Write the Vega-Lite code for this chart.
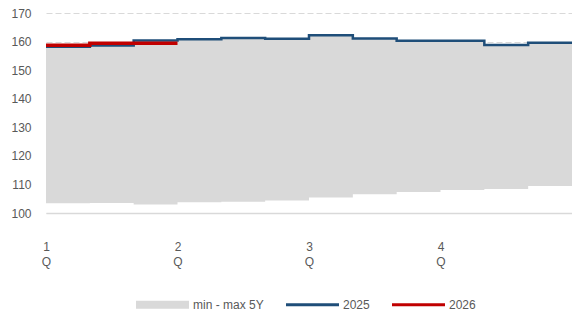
{
  "$schema": "https://vega.github.io/schema/vega-lite/v6.json",
  "width": 526,
  "height": 200,
  "autosize": "none",
  "padding": {"left": 46, "top": 13, "right": 0, "bottom": 102},
  "config": {
    "view": {"stroke": null},
    "font": "Liberation Sans",
    "legend": {
      "title": null,
      "orient": "none",
      "direction": "horizontal",
      "legendX": 90,
      "legendY": 265,
      "symbolType": "M-1,-0.06H1V0.06H-1Z",
      "symbolSize": 2809,
      "symbolStrokeWidth": 0,
      "labelFontSize": 12,
      "labelColor": "#595959",
      "labelOffset": 4,
      "columnPadding": 22
    }
  },
  "datasets": {
    "band": [
      {"m": 0, "lo": 103.4, "hi": 158.2},
      {"m": 1, "lo": 103.5, "hi": 158.6},
      {"m": 2, "lo": 103.0, "hi": 160.4},
      {"m": 3, "lo": 103.75, "hi": 160.8},
      {"m": 4, "lo": 103.95, "hi": 161.25},
      {"m": 5, "lo": 104.4, "hi": 161.0},
      {"m": 6, "lo": 105.4, "hi": 162.2},
      {"m": 7, "lo": 106.6, "hi": 161.1},
      {"m": 8, "lo": 107.35, "hi": 160.3},
      {"m": 9, "lo": 108.05, "hi": 160.3},
      {"m": 10, "lo": 108.4, "hi": 158.8},
      {"m": 11, "lo": 109.45, "hi": 159.6},
      {"m": 12, "lo": 109.45, "hi": 159.6}
    ],
    "lines": [
      {"m": 0, "series": "2025", "value": 158.2},
      {"m": 1, "series": "2025", "value": 158.6},
      {"m": 2, "series": "2025", "value": 160.4},
      {"m": 3, "series": "2025", "value": 160.8},
      {"m": 4, "series": "2025", "value": 161.25},
      {"m": 5, "series": "2025", "value": 161.0},
      {"m": 6, "series": "2025", "value": 162.2},
      {"m": 7, "series": "2025", "value": 161.1},
      {"m": 8, "series": "2025", "value": 160.3},
      {"m": 9, "series": "2025", "value": 160.3},
      {"m": 10, "series": "2025", "value": 158.8},
      {"m": 11, "series": "2025", "value": 159.6},
      {"m": 12, "series": "2025", "value": 159.6},
      {"m": 0, "series": "2026", "value": 158.7},
      {"m": 1, "series": "2026", "value": 159.4},
      {"m": 2, "series": "2026", "value": 159.4},
      {"m": 3, "series": "2026", "value": 159.4}
    ]
  },
  "encoding": {
    "x": {
      "field": "m",
      "type": "quantitative",
      "scale": {"domain": [0, 12], "nice": false, "zero": false},
      "axis": {
        "title": null,
        "values": [0, 3, 6, 9],
        "labelExpr": "[toString(datum.value / 3 + 1), 'Q']",
        "grid": false,
        "ticks": false,
        "domainColor": "#D9D9D9",
        "domainWidth": 1.5,
        "labelColor": "#595959",
        "labelFontSize": 12,
        "labelPadding": 28,
        "labelLineHeight": 15,
        "labelAlign": "center",
        "labelBaseline": "top",
        "labelOverlap": false
      }
    }
  },
  "layer": [
    {
      "data": {"name": "band"},
      "mark": {"type": "area", "interpolate": "step-after", "opacity": 1},
      "encoding": {
        "y": {
          "field": "hi",
          "type": "quantitative",
          "scale": {"domain": [100, 170], "nice": false, "zero": false},
          "axis": {
            "title": null,
            "values": [100, 110, 120, 130, 140, 150, 160, 170],
            "labelOverlap": false,
            "domain": false,
            "ticks": false,
            "gridColor": "#D9D9D9",
            "gridDash": [6, 3],
            "gridWidth": 1,
            "labelColor": "#595959",
            "labelFontSize": 12,
            "labelPadding": 15
          }
        },
        "y2": {"field": "lo"},
        "color": {
          "datum": "min - max 5Y",
          "type": "nominal",
          "scale": {
            "domain": ["min - max 5Y", "2025", "2026"],
            "range": ["#D9D9D9", "#1F4E79", "#C00000"]
          },
          "legend": {
            "title": null,
            "encode": {
              "symbols": {
                "update": {
                  "shape": {"signal": "datum.value == 'min - max 5Y' ? 'M-1,-0.15H1V0.15H-1Z' : 'M-1,-0.06H1V0.06H-1Z'"},
                  "fill": {"signal": "scale('color', datum.value)"},
                  "opacity": {"value": 1}
                }
              }
            }
          }
        }
      }
    },
    {
      "data": {"name": "lines"},
      "transform": [{"filter": "datum.series == '2025'"}],
      "mark": {"type": "line", "interpolate": "step-after", "strokeWidth": 2.5},
      "encoding": {
        "y": {
          "field": "value",
          "type": "quantitative",
          "axis": {
            "title": null,
            "values": [100, 110, 120, 130, 140, 150, 160, 170],
            "labelOverlap": false,
            "domain": false,
            "ticks": false,
            "gridColor": "#D9D9D9",
            "gridDash": [6, 3],
            "gridWidth": 1,
            "labelColor": "#595959",
            "labelFontSize": 12,
            "labelPadding": 15
          }
        },
        "color": {
          "field": "series",
          "type": "nominal",
          "legend": {
            "title": null,
            "encode": {
              "symbols": {
                "update": {
                  "shape": {"signal": "datum.value == 'min - max 5Y' ? 'M-1,-0.15H1V0.15H-1Z' : 'M-1,-0.06H1V0.06H-1Z'"},
                  "fill": {"signal": "scale('color', datum.value)"},
                  "opacity": {"value": 1}
                }
              }
            }
          }
        }
      }
    },
    {
      "data": {"name": "lines"},
      "transform": [{"filter": "datum.series == '2026'"}],
      "mark": {"type": "line", "interpolate": "step-after", "strokeWidth": 3.5},
      "encoding": {
        "y": {
          "field": "value",
          "type": "quantitative",
          "axis": {
            "title": null,
            "values": [100, 110, 120, 130, 140, 150, 160, 170],
            "labelOverlap": false,
            "domain": false,
            "ticks": false,
            "gridColor": "#D9D9D9",
            "gridDash": [6, 3],
            "gridWidth": 1,
            "labelColor": "#595959",
            "labelFontSize": 12,
            "labelPadding": 15
          }
        },
        "color": {
          "field": "series",
          "type": "nominal",
          "legend": {
            "title": null,
            "encode": {
              "symbols": {
                "update": {
                  "shape": {"signal": "datum.value == 'min - max 5Y' ? 'M-1,-0.15H1V0.15H-1Z' : 'M-1,-0.06H1V0.06H-1Z'"},
                  "fill": {"signal": "scale('color', datum.value)"},
                  "opacity": {"value": 1}
                }
              }
            }
          }
        }
      }
    }
  ]
}
